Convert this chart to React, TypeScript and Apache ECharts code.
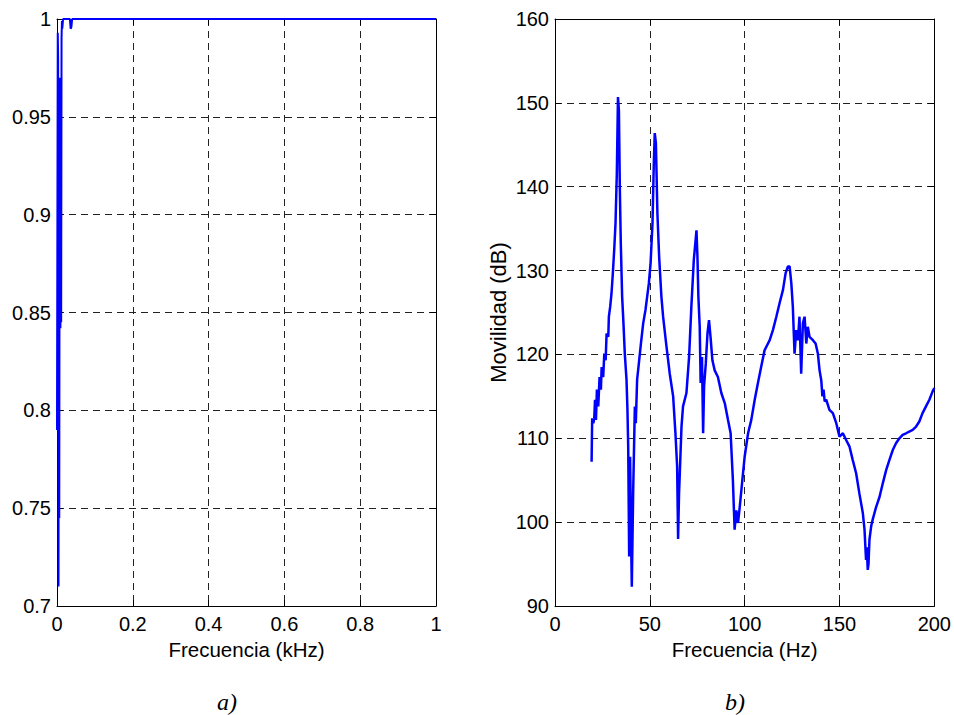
import React, { useEffect, useRef } from "react";
import * as echarts from "echarts";

// ---- Panel a) coherence ----
const cohFreqKHz = [0, 0.002, 0.003, 0.004, 0.005, 0.006, 0.007, 0.008, 0.009, 0.010, 0.011, 0.012, 0.013, 0.014, 0.016, 0.018, 0.034, 0.036, 0.038, 0.040, 0.2, 0.5, 1.0];
const cohValue = [0.79, 0.993, 0.98, 0.71, 0.9, 0.745, 0.95, 0.97, 0.842, 0.96, 0.845, 0.99, 0.999, 0.995, 1.0, 1.0, 1.0, 0.995, 0.996, 1.0, 1.0, 1.0, 1.0];

// ---- Panel b) mobility ----
const freqHz = [
  19.3, 19.6, 20.2, 20.7, 21.1, 21.6, 22.1, 22.8, 23.5, 24.2, 24.6, 25.4, 26.0, 26.7, 27.2, 28.1, 28.4, 29.1, 29.8, 30.5,
  31.2, 31.9, 32.6, 33.2, 33.7, 34.2, 34.7, 35.4, 36.1, 36.8, 37.7, 38.2, 38.6, 39.1, 39.6, 40.0, 40.5, 41.2, 42.1, 42.6,
  43.3, 44.2, 45.3, 46.5, 47.7, 48.6, 49.5, 50.4, 51.4, 52.1, 52.6, 53.2, 54.0, 54.9, 56.1, 57.0, 58.8, 60.5, 62.3, 63.5,
  64.4, 64.9, 65.4, 65.8, 66.7, 67.5, 69.3, 70.7, 71.9, 73.2, 74.6, 75.1, 75.6, 76.3, 76.8, 77.5, 78.1, 78.6, 79.5, 80.4,
  81.2, 82.0, 83.0, 84.2, 85.9, 87.7, 89.5, 91.2, 92.6, 93.8, 94.7, 95.6, 96.5, 97.4, 98.6, 100.0, 101.8, 103.5, 105.3, 107.0,
  108.5, 110.5, 113.2, 114.9, 116.7, 118.4, 120.2, 121.6, 122.8, 123.7, 124.6, 125.4, 126.3, 127.2, 128.1, 128.9, 129.8, 130.7, 131.6, 132.5,
  133.3, 134.2, 136.0, 137.4, 138.6, 139.5, 140.4, 141.0, 141.6, 142.2, 143.0, 144.7, 146.5, 148.3, 150.0, 151.8, 153.5, 155.3, 157.0, 158.8, 160.5, 162.3,
  163.2, 164.0, 164.4, 164.9, 165.3, 165.8, 166.7, 167.5, 169.3, 171.1, 172.8, 174.6, 176.3, 178.1, 179.8, 181.6, 183.3, 185.1, 186.8, 188.6,
  190.4, 192.1, 193.8, 195.6, 197.4, 199.1, 200.0,
];
const mobilityDb = [
  107.2, 112.4, 111.8, 112.4, 114.6, 112.2, 115.8, 113.8, 117.3, 115.8, 118.5, 117.3, 120.1, 119.3, 122.5, 122.1, 124.5, 125.7, 127.3, 129.7,
  132.4, 135.6, 141.6, 150.7, 149.1, 139.6, 133.2, 126.9, 123.7, 120.1, 117.0, 113.4, 109.0, 95.9, 107.8, 99.9, 92.3, 103.4, 113.8, 111.8,
  117.0, 118.9, 121.3, 123.7, 125.3, 126.9, 128.5, 130.9, 135.6, 142.8, 146.4, 145.2, 136.8, 131.7, 126.9, 124.5, 120.9, 117.7, 115.0, 110.6,
  106.6, 98.0, 103.4, 105.8, 111.4, 113.8, 115.4, 119.7, 125.7, 131.3, 134.8, 131.7, 126.9, 123.3, 116.6, 119.7, 110.6, 116.2, 118.9, 122.5,
  124.1, 122.1, 119.3, 118.1, 117.3, 115.4, 114.2, 112.2, 110.6, 105.0, 99.1, 101.4, 99.9, 101.8, 104.6, 107.8, 110.6, 112.2, 114.6, 116.6,
  118.3, 120.5, 121.7, 122.9, 124.5, 126.1, 127.7, 129.7, 130.5, 130.5, 128.5, 125.7, 120.1, 122.9, 121.7, 124.5, 117.7, 123.7, 124.5, 121.3,
  123.3, 122.1, 121.7, 121.3, 120.1, 118.1, 116.9, 115.0, 115.8, 114.4, 114.6, 113.4, 113.0, 111.8, 110.2, 110.6, 109.8, 109.0, 107.4, 105.8, 103.4, 101.1,
  99.1, 95.5, 97.0, 94.3, 95.0, 97.9, 99.5, 100.3, 101.8, 103.0, 104.6, 106.2, 107.4, 108.6, 109.4, 110.0, 110.4, 110.6, 110.8, 111.0,
  111.4, 112.0, 113.0, 113.8, 114.6, 115.6, 116.0,
];

const leftXTicks = { min: 0, max: 1, interval: 0.2 };
const leftYTicks = { min: 0.7, max: 1, interval: 0.05 };
const rightXTicks = { min: 0, max: 200, interval: 50 };
const rightYTicks = { min: 90, max: 160, interval: 10 };

const FONT = "'Liberation Sans', Arial, sans-serif";

function mainAxis(gridIndex: number, t: any, pos: string, name: string, nameGap: number, nameSize: number) {
  return {
    type: "value",
    gridIndex,
    position: pos,
    min: t.min,
    max: t.max,
    interval: t.interval,
    name,
    nameLocation: "middle",
    nameGap,
    nameTextStyle: { fontFamily: FONT, fontSize: nameSize, color: "#000" },
    axisLine: { show: true, onZero: false, lineStyle: { color: "#000", width: 1 } },
    axisTick: { show: true, inside: true, length: 6, lineStyle: { color: "#000" } },
    axisLabel: { fontFamily: FONT, fontSize: 20, color: "#000", margin: pos === "bottom" ? 8 : 6 },
    splitLine: { show: true, lineStyle: { color: "#222", width: 1, type: [7, 5] } },
  };
}

function mirrorAxis(gridIndex: number, t: any, pos: string) {
  return {
    type: "value",
    gridIndex,
    position: pos,
    min: t.min,
    max: t.max,
    interval: t.interval,
    axisLine: { show: true, onZero: false, lineStyle: { color: "#000", width: 1 } },
    axisTick: { show: true, inside: true, length: 6, lineStyle: { color: "#000" } },
    axisLabel: { show: false },
    splitLine: { show: false },
  };
}

export default function App() {
  const ref = useRef<HTMLDivElement>(null);
  useEffect(() => {
    if (!ref.current) return;
    const chart = echarts.init(ref.current, undefined, { renderer: "svg" });
    const cohData = cohFreqKHz.map((f, i) => [f, cohValue[i]]);
    const mobData = freqHz.map((f, i) => [f, mobilityDb[i]]);
    chart.setOption({
      animation: false,
      backgroundColor: "#fff",
      grid: [
        { left: 57, top: 19, width: 379, height: 587, containLabel: false },
        { left: 555, top: 19, width: 380, height: 587, containLabel: false },
      ],
      xAxis: [
        mainAxis(0, leftXTicks, "bottom", "Frecuencia (kHz)", 28, 20.5),
        mirrorAxis(0, leftXTicks, "top"),
        mainAxis(1, rightXTicks, "bottom", "Frecuencia (Hz)", 28, 20.5),
        mirrorAxis(1, rightXTicks, "top"),
      ],
      yAxis: [
        { ...mainAxis(0, leftYTicks, "left", "", 40, 22) },
        mirrorAxis(0, leftYTicks, "right"),
        mainAxis(1, rightYTicks, "left", "Movilidad (dB)", 46, 22),
        mirrorAxis(1, rightYTicks, "right"),
      ],
      series: [
        {
          type: "line",
          xAxisIndex: 0,
          yAxisIndex: 0,
          data: cohData,
          showSymbol: false,
          lineStyle: { color: "#0000ff", width: 2 },
        },
        {
          type: "line",
          xAxisIndex: 2,
          yAxisIndex: 2,
          data: mobData,
          showSymbol: false,
          lineStyle: { color: "#0000ff", width: 2.5 },
        },
      ],
      graphic: [
        {
          type: "text",
          x: 227,
          y: 702,
          style: { text: "a)", font: "italic 24px 'Liberation Serif', 'Times New Roman', serif", fill: "#000", textAlign: "center", textVerticalAlign: "middle" },
        },
        {
          type: "text",
          x: 735,
          y: 702,
          style: { text: "b)", font: "italic 24px 'Liberation Serif', 'Times New Roman', serif", fill: "#000", textAlign: "center", textVerticalAlign: "middle" },
        },
      ],
    });
    return () => chart.dispose();
  }, []);
  return <div ref={ref} style={{ position: "absolute", left: 0, top: 0, width: 954, height: 715, background: "#fff" }} />;
}
